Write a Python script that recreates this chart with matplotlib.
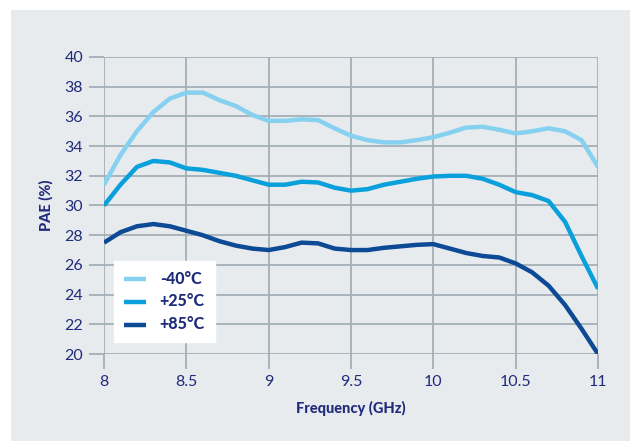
import numpy as np
import matplotlib.pyplot as plt
from matplotlib.patches import Rectangle

# Data (frequency in GHz, PAE in %)
freq = [8.0, 8.1, 8.2, 8.3, 8.4, 8.5, 8.6, 8.7, 8.8, 8.9, 9.0,
        9.1, 9.2, 9.3, 9.4, 9.5, 9.6, 9.7, 9.8, 9.9, 10.0,
        10.1, 10.2, 10.3, 10.4, 10.5, 10.6, 10.7, 10.8, 10.9, 11.0]
pae_m40 = [31.4, 33.4, 35.0, 36.3, 37.2, 37.6, 37.6, 37.1, 36.7, 36.1, 35.7,
           35.7, 35.8, 35.75, 35.2, 34.7, 34.4, 34.25, 34.25, 34.4, 34.6,
           34.9, 35.25, 35.3, 35.1, 34.85, 35.0, 35.2, 35.0, 34.4, 32.6]
pae_p25 = [30.0, 31.4, 32.6, 33.0, 32.9, 32.5, 32.4, 32.2, 32.0, 31.7, 31.4,
           31.4, 31.6, 31.55, 31.2, 31.0, 31.1, 31.4, 31.6, 31.8, 31.95,
           32.0, 32.0, 31.8, 31.4, 30.9, 30.7, 30.3, 28.9, 26.6, 24.4]
pae_p85 = [27.5, 28.2, 28.6, 28.75, 28.6, 28.3, 28.0, 27.6, 27.3, 27.1, 27.0,
           27.2, 27.5, 27.45, 27.1, 27.0, 27.0, 27.15, 27.25, 27.35, 27.4,
           27.1, 26.8, 26.6, 26.5, 26.1, 25.5, 24.6, 23.3, 21.7, 20.0]
labels = ["-40°C", "+25°C", "+85°C"]
colors = ["#86d0f0", "#0aa0dc", "#0c4a96"]

navy = "#1f2b7b"
grid_c = "#a3afb6"
panel_c = "#e8ebee"

plt.rcParams['font.family'] = ['Lato', 'DejaVu Sans']

fig = plt.figure(figsize=(6.3, 4.41), dpi=100)
fig.patch.set_facecolor("white")
fig.add_artist(Rectangle((11 / 630, 0), 1 - 11 / 630, 1 - 10 / 441,
                         transform=fig.transFigure, facecolor=panel_c,
                         edgecolor="none", zorder=-10))

ax = fig.add_axes([104 / 630, 87 / 441, 494 / 630, 297 / 441])
ax.set_facecolor(panel_c)

for series, lab, col in zip([pae_m40, pae_p25, pae_p85], labels, colors):
    ax.plot(freq, series, color=col, lw=3.2, label=lab, solid_capstyle="butt",
            solid_joinstyle="round", zorder=3)

ax.set_xlim(8, 11)
ax.set_ylim(20, 40)
ax.set_xticks([8, 8.5, 9, 9.5, 10, 10.5, 11])
ax.set_xticklabels(["8", "8.5", "9", "9.5", "10", "10.5", "11"])
ax.set_yticks(np.arange(20, 41, 2))
ax.grid(True, color=grid_c, lw=1.3)
ax.set_axisbelow(True)
for s in ax.spines.values():
    s.set_visible(False)
ax.tick_params(colors=grid_c, labelcolor=navy, labelsize=11.5, length=11,
               width=1.3, pad=4)

ax.set_xlabel("Frequency (GHz)", color=navy, fontsize=10.5, fontweight="black",
              labelpad=9)
ax.set_ylabel("PAE (%)", color=navy, fontsize=10.5, fontweight="black",
              labelpad=8)

leg = ax.legend(loc="lower left", bbox_to_anchor=(0.02, 0.04), frameon=True,
                fancybox=False, framealpha=1, edgecolor="white",
                facecolor="white", handlelength=1.6, handletextpad=1.0,
                borderpad=0.7, labelspacing=0.5, borderaxespad=0)
for t in leg.get_texts():
    t.set_color(navy)
    t.set_fontweight("black")
    t.set_fontsize(11.5)

fig.savefig("out.png", dpi=100)
